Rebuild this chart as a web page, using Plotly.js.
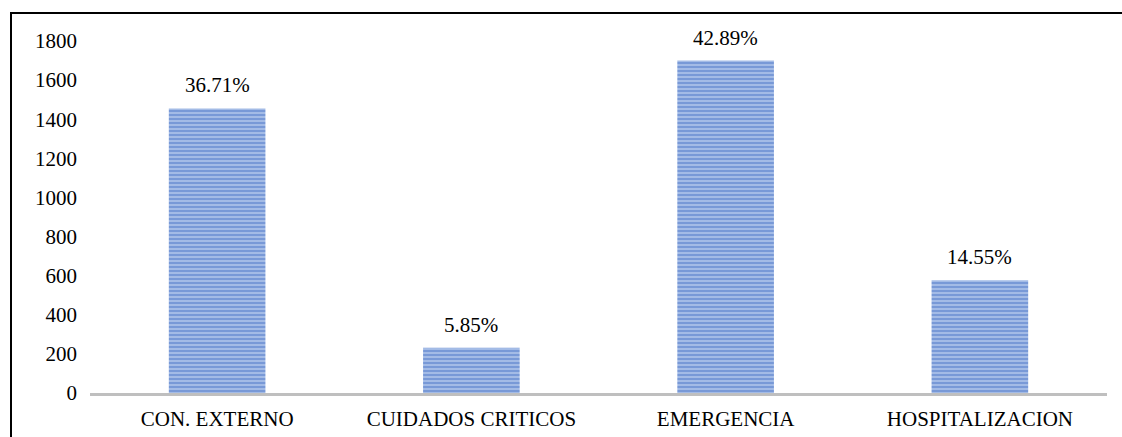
<!DOCTYPE html>
<html>
<head>
<meta charset="utf-8">
<script src="https://cdn.plot.ly/plotly-3.0.1.min.js"></script>
<style>
html,body{margin:0;padding:0;background:#fff;}
#frame{position:absolute;left:10px;top:12px;width:1112px;height:425px;border-left:2px solid #000;border-top:2px solid #000;box-sizing:border-box;}
#chart{position:absolute;left:0;top:0;width:1122px;height:437px;}
</style>
</head>
<body>
<div id="frame"></div>
<div id="chart"></div>
<script>
const categories = ["CON. EXTERNO", "CUIDADOS CRITICOS", "EMERGENCIA", "HOSPITALIZACION"];
const values = [1455, 232, 1700, 577];
const percentLabels = ["36.71%", "5.85%", "42.89%", "14.55%"];
const yTicks = [0, 200, 400, 600, 800, 1000, 1200, 1400, 1600, 1800];

const font = {family: "Liberation Serif", size: 21, color: "#000"};

const trace = {
  type: "bar",
  x: categories,
  y: values,
  marker: {
    color: "#4170c3",
    line: {width: 0},
    pattern: {shape: "-", fgcolor: "#4170c3", bgcolor: "#aec3ea", size: 4, solidity: 0.6, fillmode: "overlay"}
  },
  hoverinfo: "none"
};

const annotations = categories.map((c, i) => ({
  x: c, y: values[i], xref: "x", yref: "y",
  text: percentLabels[i], showarrow: false,
  yanchor: "bottom", yshift: 9, font: font
}));

const layout = {
  width: 1122, height: 437,
  margin: {l: 90, r: 15, t: 41, b: 44, pad: 0},
  paper_bgcolor: "rgba(0,0,0,0)",
  plot_bgcolor: "rgba(0,0,0,0)",
  bargap: 0.62,
  showlegend: false,
  font: font,
  xaxis: {
    type: "category",
    showline: true, linecolor: "#bfbfbf", linewidth: 3,
    showgrid: false, ticks: "", tickfont: font, ticklabelstandoff: 5,
    zeroline: false
  },
  yaxis: {
    range: [0, 1800], tickvals: yTicks, ticktext: yTicks.map(String),
    showline: false, showgrid: false, zeroline: false,
    ticks: "", tickfont: font, ticklabelstandoff: 12
  },
  annotations: annotations
};

Plotly.newPlot("chart", [trace], layout, {staticPlot: true, displayModeBar: false});
</script>
</body>
</html>
